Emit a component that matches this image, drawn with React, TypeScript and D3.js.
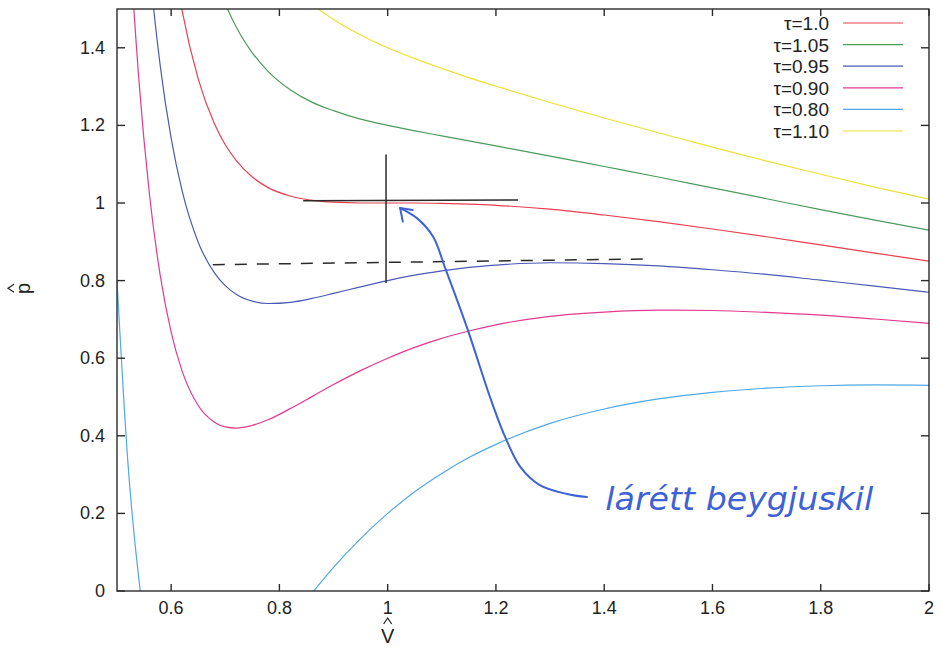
import React from "react";
import * as d3 from "d3";

// reduced volume samples (x axis)
const volumes = [0.5, 0.52, 0.54, 0.56, 0.58, 0.6, 0.62, 0.65, 0.68, 0.7, 0.72, 0.75, 0.78, 0.82, 0.86, 0.9, 0.95, 1.0, 1.05, 1.1, 1.15, 1.2, 1.3, 1.4, 1.5, 1.6, 1.7, 1.8, 1.9, 2.0];

// reduced pressure
const p100 = [4.0, 3.191, 2.615, 2.198, 1.893, 1.667, 1.498, 1.32, 1.204, 1.15, 1.11, 1.067, 1.039, 1.018, 1.007, 1.002, 1.0, 1.0, 1.0, 0.999, 0.997, 0.994, 0.984, 0.969, 0.952, 0.933, 0.913, 0.892, 0.871, 0.85];
const p105 = [4.8, 3.905, 3.26, 2.787, 2.433, 2.167, 1.963, 1.742, 1.589, 1.514, 1.454, 1.387, 1.338, 1.292, 1.26, 1.238, 1.216, 1.2, 1.186, 1.173, 1.16, 1.147, 1.121, 1.094, 1.067, 1.039, 1.011, 0.983, 0.956, 0.93];
const p095 = [3.2, 2.477, 1.97, 1.61, 1.352, 1.167, 1.033, 0.899, 0.82, 0.787, 0.765, 0.747, 0.741, 0.744, 0.754, 0.767, 0.784, 0.8, 0.814, 0.825, 0.834, 0.84, 0.846, 0.844, 0.838, 0.828, 0.816, 0.801, 0.786, 0.77];
const p090 = [2.4, 1.762, 1.325, 1.022, 0.812, 0.667, 0.568, 0.478, 0.435, 0.423, 0.42, 0.427, 0.442, 0.47, 0.501, 0.532, 0.568, 0.6, 0.628, 0.651, 0.67, 0.686, 0.708, 0.719, 0.724, 0.723, 0.718, 0.711, 0.701, 0.69];
const p080 = [0.8, 0.334, 0.035, -0.155, -0.269, -0.333, -0.363, -0.364, -0.334, -0.304, -0.27, -0.213, -0.155, -0.078, -0.006, 0.061, 0.135, 0.2, 0.256, 0.303, 0.344, 0.378, 0.432, 0.469, 0.495, 0.512, 0.523, 0.529, 0.531, 0.53];
const p110 = [5.6, 4.62, 3.905, 3.375, 2.974, 2.667, 2.428, 2.163, 1.974, 1.878, 1.799, 1.707, 1.636, 1.566, 1.513, 1.473, 1.433, 1.4, 1.372, 1.347, 1.323, 1.301, 1.259, 1.219, 1.181, 1.144, 1.108, 1.074, 1.041, 1.01];

const seriesNames = ["τ=1.0", "τ=1.05", "τ=0.95", "τ=0.90", "τ=0.80", "τ=1.10"];
const seriesValues = [p100, p105, p095, p090, p080, p110];
const seriesColors = ["#e8404f", "#4f9a5c", "#4b5ab5", "#e23a8f", "#4fa9e6", "#ece232"];

const xTicks = [0.6, 0.8, 1, 1.2, 1.4, 1.6, 1.8, 2];
const yTicks = [0, 0.2, 0.4, 0.6, 0.8, 1, 1.2, 1.4];

// pen annotations, in data units
const tangentLine = [[0.844, 1.006], [1.241, 1.008]];
const crossLine = [[0.997, 1.125], [0.997, 0.794]];
const dashedLine = [[0.677, 0.841], [1.488, 0.856]];
const arrowCurve = [[1.368, 0.242], [1.331, 0.25], [1.281, 0.273], [1.245, 0.32], [1.217, 0.397], [1.189, 0.5], [1.148, 0.673], [1.106, 0.833], [1.084, 0.913], [1.054, 0.961], [1.023, 0.987]];
const arrowHead = [[1.028, 0.952], [1.023, 0.987], [1.046, 0.982]];
const noteText = "lárétt beygjuskil";
const notePos = [1.402, 0.21];

const W = 950;
const H = 654;
const left = 117, right = 929, top = 9, bottom = 591;

export default function App() {
  const x = d3.scaleLinear().domain([0.5, 2]).range([left, right]);
  const y = d3.scaleLinear().domain([0, 1.5]).range([bottom, top]);

  const line = d3
    .line<number>()
    .x((d, i) => x(volumes[i]))
    .y((d) => y(d))
    .curve(d3.curveMonotoneX);

  const pen = d3
    .line<number[]>()
    .x((d) => x(d[0]))
    .y((d) => y(d[1]));
  const penCurve = d3
    .line<number[]>()
    .x((d) => x(d[0]))
    .y((d) => y(d[1]))
    .curve(d3.curveCatmullRom.alpha(0.5));

  const font = "'Liberation Sans', Arial, Helvetica, sans-serif";
  const ink = "#3d62d6";

  return (
    <svg width={W} height={H} style={{ position: "absolute", left: 0, top: 0, background: "#fff" }}>
      <defs>
        <clipPath id="plot">
          <rect x={left} y={top} width={right - left} height={bottom - top} />
        </clipPath>
      </defs>

      {/* curves */}
      <g clipPath="url(#plot)" fill="none" strokeWidth={1.2}>
        {seriesValues.map((vals, i) => (
          <path key={i} d={line(vals) || ""} stroke={seriesColors[i]} />
        ))}
      </g>

      {/* frame and ticks */}
      <g stroke="#2b2b2b" strokeWidth={1.4}>
        <rect x={left} y={top} width={right - left} height={bottom - top} fill="none" />
        {xTicks.map((t) => (
          <g key={"x" + t}>
            <line x1={x(t)} x2={x(t)} y1={bottom} y2={bottom - 7} />
            <line x1={x(t)} x2={x(t)} y1={top} y2={top + 7} />
          </g>
        ))}
        {yTicks.map((t) => (
          <g key={"y" + t}>
            <line x1={left} x2={left + 8} y1={y(t)} y2={y(t)} />
            <line x1={right} x2={right - 8} y1={y(t)} y2={y(t)} />
          </g>
        ))}
      </g>

      <g fontFamily={font} fontSize={18} fill="#222">
        {xTicks.map((t) => (
          <text key={"xl" + t} x={x(t)} y={bottom + 23} textAnchor="middle">
            {String(t)}
          </text>
        ))}
        {yTicks.map((t) => (
          <text key={"yl" + t} x={left - 12} y={y(t) + 6} textAnchor="end">
            {String(t)}
          </text>
        ))}
      </g>

      {/* axis titles, hats drawn as small chevrons */}
      <g fontFamily={font} fontSize={20} fill="#222">
        <text x={x(1)} y={643} textAnchor="middle">V</text>
        <path d={`M${x(1) - 4},${624} L${x(1)},${618} L${x(1) + 4},${624}`} fill="none" stroke="#222" strokeWidth={1.2} />
        <g transform={`translate(30, ${y(0.78)}) rotate(-90)`}>
          <text x={0} y={0} textAnchor="middle">p</text>
          <path d="M-4,-16 L0,-22 L4,-16" fill="none" stroke="#222" strokeWidth={1.2} />
        </g>
      </g>

      {/* legend */}
      <g fontFamily={font} fontSize={19} fill="#222">
        {seriesNames.map((name, i) => (
          <g key={name} transform={`translate(0, ${23 + i * 21.6})`}>
            <text x={829} y={7} textAnchor="end">{name}</text>
            <line x1={843} x2={903} y1={0} y2={0} stroke={seriesColors[i]} strokeWidth={1.2} />
          </g>
        ))}
      </g>

      {/* pen annotations */}
      <g fill="none" stroke="#2a2a2a" strokeWidth={1.5}>
        <path d={pen(tangentLine) || ""} />
        <path d={pen(crossLine) || ""} />
        <path d={pen(dashedLine) || ""} strokeDasharray="12 10" />
      </g>
      <g fill="none" stroke={ink} strokeWidth={2} strokeLinecap="round" strokeLinejoin="round">
        <path d={penCurve(arrowCurve) || ""} />
        <path d={pen(arrowHead) || ""} />
      </g>
      <text
        x={x(notePos[0])}
        y={y(notePos[1])}
        fontFamily="'DejaVu Sans', sans-serif"
        fontStyle="italic"
        fontSize={32}
        fill={ink}
        textLength={268}
        lengthAdjust="spacingAndGlyphs"
      >
        {noteText}
      </text>
    </svg>
  );
}
